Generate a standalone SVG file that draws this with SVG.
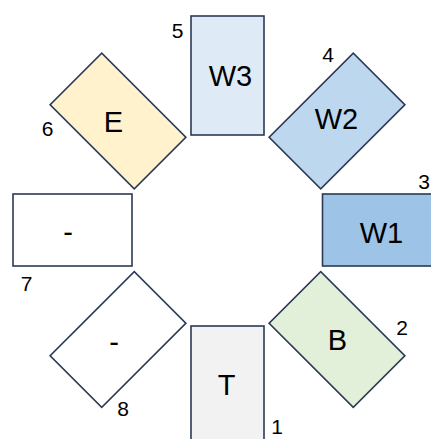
<svg xmlns="http://www.w3.org/2000/svg" width="431" height="439" viewBox="0 0 431 439">
<style>
.box{stroke:#2B3A55;stroke-width:1.6}
.lbl{font-family:"Liberation Sans",Arial,sans-serif;font-size:29px;fill:#000;text-anchor:middle}
.num{font-family:"Liberation Sans",Arial,sans-serif;font-size:21px;fill:#000;text-anchor:middle}
</style>
<rect width="431" height="439" fill="#fff"/>
<g id="node-T">
<rect class="box" x="191" y="326" width="73" height="119" fill="#F2F2F2"/>
<text class="lbl" x="226.5" y="395">T</text>
<text class="num" x="277" y="434">1</text>
</g>
<g id="node-B">
<rect class="box" x="-36.5" y="-59.5" width="73" height="119" fill="#E2F0D9" transform="translate(337 339.5) rotate(-45)"/>
<text class="lbl" x="337.5" y="350">B</text>
<text class="num" x="402" y="335">2</text>
</g>
<g id="node-W1">
<rect class="box" x="322.5" y="194" width="119" height="72" fill="#9DC3E6"/>
<text class="lbl" x="381.5" y="243">W1</text>
<text class="num" x="430" y="189" style="text-anchor:end">3</text>
</g>
<g id="node-W2">
<rect class="box" x="-36.5" y="-59.5" width="73" height="119" fill="#BDD7EE" transform="translate(337 121) rotate(45)"/>
<text class="lbl" x="336.5" y="129">W2</text>
<text class="num" x="328" y="62">4</text>
</g>
<g id="node-W3">
<rect class="box" x="191" y="16" width="73" height="119" fill="#DEEBF7"/>
<text class="lbl" x="230.5" y="86">W3</text>
<text class="num" x="177.5" y="38">5</text>
</g>
<g id="node-E">
<rect class="box" x="-36.5" y="-59.5" width="73" height="119" fill="#FFF2CC" transform="translate(118 121) rotate(-45)"/>
<text class="lbl" x="113.5" y="132">E</text>
<text class="num" x="47.5" y="136">6</text>
</g>
<g id="node-7">
<rect class="box" x="13" y="194" width="119" height="72" fill="#fff"/>
<text class="lbl" x="68" y="241.5">-</text>
<text class="num" x="26.5" y="291">7</text>
</g>
<g id="node-8">
<rect class="box" x="-36.5" y="-59.5" width="73" height="119" fill="#fff" transform="translate(118 339.5) rotate(45)"/>
<text class="lbl" x="114" y="351.5">-</text>
<text class="num" x="123" y="416">8</text>
</g>
</svg>
